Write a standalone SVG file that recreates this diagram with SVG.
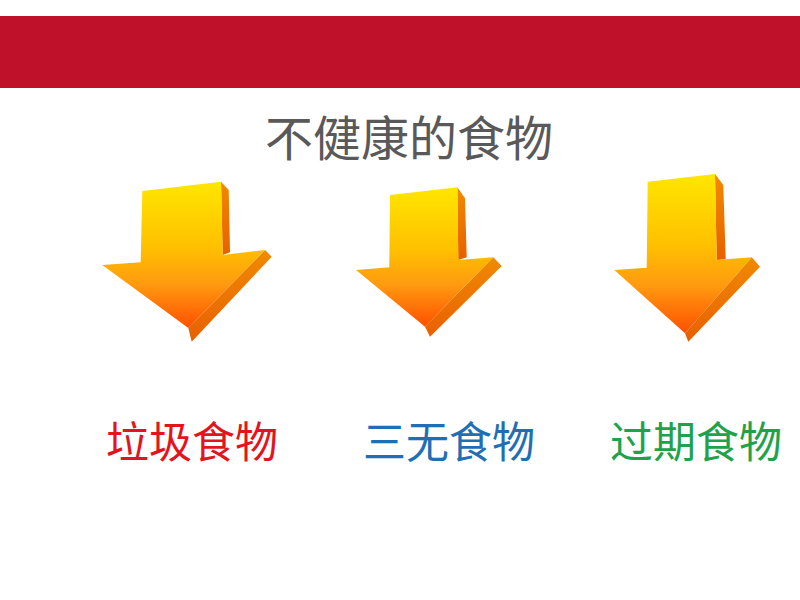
<svg xmlns="http://www.w3.org/2000/svg" width="800" height="600" viewBox="0 0 800 600">
<defs>
<linearGradient id="face" x1="0" y1="0" x2="0" y2="1">
<stop offset="0" stop-color="#FFE600"/>
<stop offset="0.45" stop-color="#FFC000"/>
<stop offset="0.7" stop-color="#FF9A10"/>
<stop offset="1" stop-color="#FF5000"/>
</linearGradient>
<linearGradient id="side" x1="0" y1="0" x2="0" y2="1">
<stop offset="0" stop-color="#F08A00"/>
<stop offset="1" stop-color="#E86000"/>
</linearGradient>
<style>
.side{fill:url(#side);}
.face{fill:url(#face);}
.t{font-family:"Noto Sans CJK SC","Noto Sans CJK JP",sans-serif;text-anchor:middle;}
</style>
</defs>
<rect x="0" y="0" width="800" height="600" fill="#FFFFFF"/>
<rect id="band" x="0" y="16" width="800" height="72" fill="#C0112B"/>
<g id="title"><text class="t" x="409" y="156" font-size="48" fill="#595959">不健康的食物</text></g>
<g id="arrow1">
<polygon class="side" points="221,181.7 228.7,190 230,252.3 222.7,255"/>
<polygon class="side" points="265,250 271.7,256.7 191.7,341.7 188.3,328"/>
<polygon class="face" points="142.3,191 221,181.7 222.7,255 265,250 188.3,328 102.3,265 140.7,262.3"/>
</g>
<g id="arrow2">
<polygon class="side" points="457.3,187.3 465,198.3 466.7,257.3 458.3,260"/>
<polygon class="side" points="493.3,257.3 501.7,266 430,336.7 425,326.7"/>
<polygon class="face" points="390,195 457.3,187.3 458.3,260 493.3,257.3 425,326.7 356,270 389.3,267.3"/>
</g>
<g id="arrow3">
<polygon class="side" points="715,174 723.3,185 725.7,259.3 716.7,260"/>
<polygon class="side" points="751.7,257.3 760,266.7 688.3,341.7 685,333.3"/>
<polygon class="face" points="647.7,181.7 715,174 716.7,260 751.7,257.3 685,333.3 614.3,270 646.7,267.7"/>
</g>
<g id="label1"><text class="t" x="192" y="458" font-size="43" fill="#E3141C">垃圾食物</text></g>
<g id="label2"><text class="t" x="449" y="458" font-size="43" fill="#1E6FB5">三无食物</text></g>
<g id="label3"><text class="t" x="696" y="458" font-size="43" fill="#1DA34A">过期食物</text></g>
</svg>
